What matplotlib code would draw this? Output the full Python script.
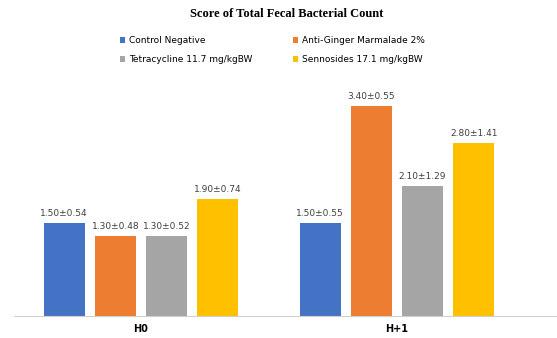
import matplotlib.pyplot as plt
import numpy as np

categories = ["H0", "H+1"]
series = ["Control Negative", "Anti-Ginger Marmalade 2%",
          "Tetracycline 11.7 mg/kgBW", "Sennosides 17.1 mg/kgBW"]
means = {
    "Control Negative": [1.50, 1.50],
    "Anti-Ginger Marmalade 2%": [1.30, 3.40],
    "Tetracycline 11.7 mg/kgBW": [1.30, 2.10],
    "Sennosides 17.1 mg/kgBW": [1.90, 2.80],
}
sds = {
    "Control Negative": [0.54, 0.55],
    "Anti-Ginger Marmalade 2%": [0.48, 0.55],
    "Tetracycline 11.7 mg/kgBW": [0.52, 1.29],
    "Sennosides 17.1 mg/kgBW": [0.74, 1.41],
}
colors = ["#4472C4", "#ED7D31", "#A5A5A5", "#FFC000"]

fig = plt.figure(figsize=(5.57, 3.38), dpi=100)
ax = fig.add_axes([14 / 557, 22 / 338, 1 - 14 / 557, 247 / 338])

x = np.arange(len(categories))
width = 0.16
pitch = 0.2
handles = []
for i, name in enumerate(series):
    pos = x + (i - 1.5) * pitch
    b = ax.bar(pos, means[name], width, color=colors[i], label=name)
    handles.append(b)
    for px, m, s in zip(pos, means[name], sds[name]):
        ax.text(px, m + 0.08, f"{m:.2f}±{s:.2f}", ha="center", va="bottom",
                fontsize=6.5, color="#404040")

ax.set_xlim(-0.496, 1.625)
ax.set_ylim(0, 4)
ax.set_yticks([])
ax.set_xticks(x)
ax.set_xticklabels(categories, fontsize=7, fontweight="bold")
ax.tick_params(axis="x", length=0, pad=6)
for sp in ["top", "right", "left"]:
    ax.spines[sp].set_visible(False)
ax.spines["bottom"].set_color("#D0D0D0")

fig.text(0.515, 0.958, "Score of Total Fecal Bacterial Count", ha="center",
         va="center", fontsize=9, fontweight="bold", family="Liberation Serif")

order = [0, 2, 1, 3]
fig.legend([handles[k] for k in order], [series[k] for k in order],
           ncol=2, loc="upper left", bbox_to_anchor=(120 / 557, 1 - 36 / 338),
           frameon=False, fontsize=6.5, handlelength=0.6, handleheight=0.6,
           handletextpad=0.4, columnspacing=4.5, labelspacing=1.15,
           borderaxespad=0, borderpad=0)

fig.savefig("out.png", dpi=100)
